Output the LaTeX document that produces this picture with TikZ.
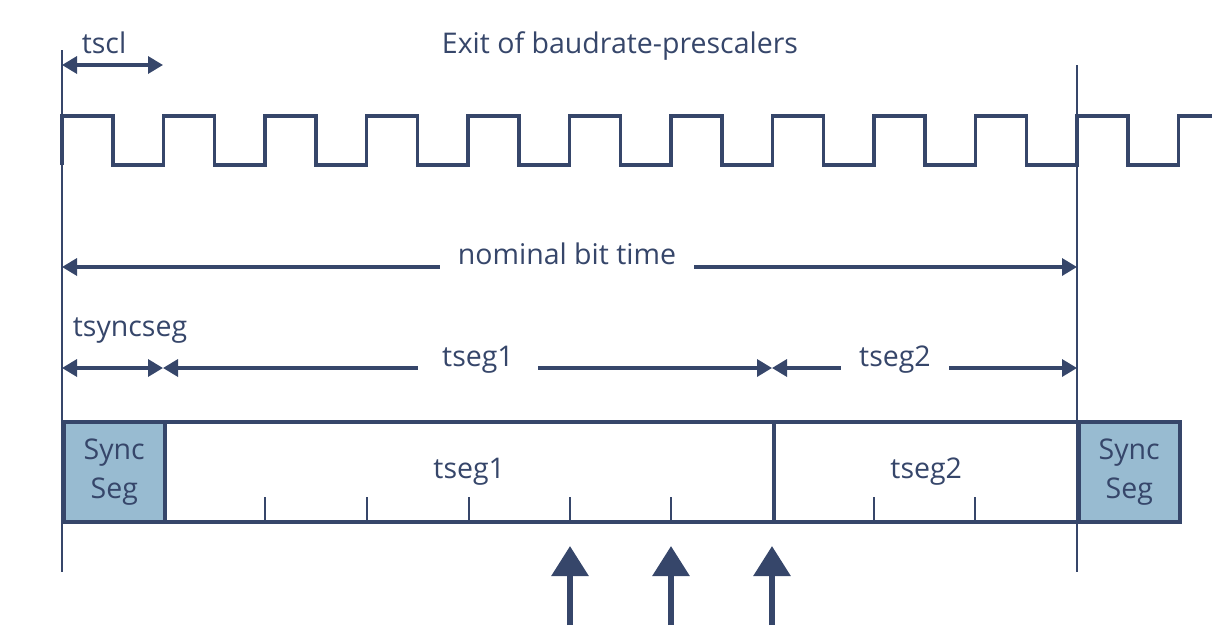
\documentclass[tikz,border=0pt]{standalone}
\usepackage{fontspec}
\setmainfont{Open Sans}
\usetikzlibrary{arrows.meta}
\definecolor{navy}{HTML}{36466A}
\definecolor{syncblue}{HTML}{98BBD1}
\begin{document}
\begin{tikzpicture}[x=1pt,y=-1pt,
  lbl/.style={text=navy,font=\fontsize{28.5}{39}\selectfont,inner sep=0pt,align=center},
  dimlbl/.style={lbl,fill=white,inner xsep=18pt,text height=21pt,text depth=8pt},
  dim/.style={draw=navy,line width=3.4pt,{Triangle[length=15pt,width=17pt]}-{Triangle[length=15pt,width=17pt]}},
  seg/.style={draw=navy,line width=3.5pt,minimum height=100pt,inner sep=0pt,anchor=north west,text=navy,font=\fontsize{28.5}{39}\selectfont,align=center},
  guide/.style={draw=navy,line width=1.5pt},
  tick/.style={draw=navy,line width=1.5pt},
  clock/.style={draw=navy,line width=3.5pt,line join=miter},
  sample/.style={draw=navy,line width=6pt,-{Triangle[length=30pt,width=36pt]}}
]
\useasboundingbox (0,0) rectangle (1212,635);

% key coordinates
\coordinate (L0) at (62,50);
\coordinate (L1) at (62,572);
\coordinate (R0) at (1077,65);
\coordinate (R1) at (1077,572);

% guide lines
\draw[guide] (L0) -- (L1);
\draw[guide] (R0) -- (R1);

% clock
\draw[clock] (62,165) -- (62,116)
  \foreach \i in {1,...,11} { -- ++(50.75,0) -- ++(0,49) -- ++(50.75,0) -- ++(0,-49) }
  -- (1212,116);

% top labels
\node[lbl] (tscl) at (104,43) {tscl};
\coordinate (tsclA) at (62,65);
\coordinate (tsclB) at (163,65);
\draw[dim] (tsclA) -- (tsclB);
\node[lbl] (exit) at (620,46) {Exit of baudrate-prescalers};

% nominal bit time
\coordinate (nbA) at (62,267);
\coordinate (nbB) at (1077,267);
\draw[dim] (nbA) -- (nbB);
\node[dimlbl] (nb) at (567,258) {nominal bit time};

% segment dimensions
\coordinate (dA) at (62,368);
\coordinate (dB) at (163,368);
\coordinate (dC) at (772,368);
\coordinate (dD) at (1077,368);
\draw[dim] (dA) -- (dB);
\draw[dim] (dB) -- (dC);
\draw[dim] (dC) -- (dD);
\node[lbl] (tsync) at (130,331) {tsyncseg};
\node[dimlbl,inner xsep=24pt] (ts1) at (478,360) {tseg1};
\node[dimlbl] (ts2) at (895,360) {tseg2};

% boxes
\node[seg,minimum width=609pt] (b1) at (163,420) {tseg1};
\node[seg,minimum width=305pt] (b2) at (772,420) {tseg2};
\node[seg,fill=syncblue,minimum width=101pt] (s0) at (62,420) {Sync\\Seg};
\node[seg,fill=syncblue,minimum width=101pt] (s1) at (1077,420) {Sync\\Seg};

% ticks
\foreach \x in {265,367,469,570,671,874,975}
  \draw[tick] (\x,497) -- (\x,520);

% sample point arrows
\foreach \x/\n in {570/a,671/b,772/c} {
  \coordinate (p\n0) at (\x,625);
  \coordinate (p\n1) at (\x,546);
  \draw[sample] (p\n0) -- (p\n1);
}
\end{tikzpicture}
\end{document}
